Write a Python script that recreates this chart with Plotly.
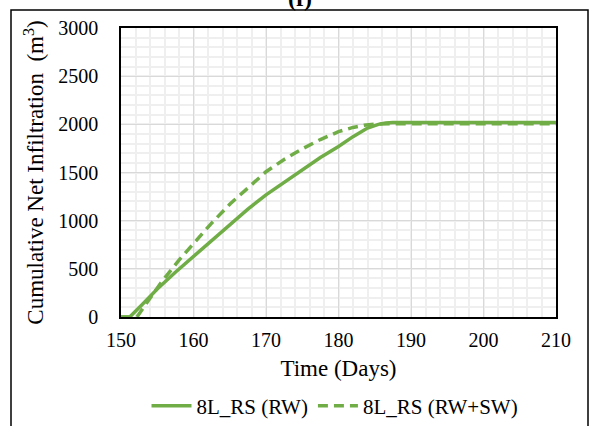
import plotly.graph_objects as go

days_rw = [150, 151.2, 153, 155, 157.5, 160, 162.5, 165, 167.5, 170, 172.5, 175, 177.5, 180, 182, 184, 185.5, 186.5, 187.5, 190, 210]
vals_rw = [0, 0, 135, 290, 465, 630, 800, 965, 1120, 1268, 1400, 1530, 1655, 1770, 1872, 1962, 2000, 2015, 2020, 2020, 2020]

days_rwsw = [150, 152.2, 154, 155.8, 158, 160, 162.5, 165, 167.5, 170, 172.5, 175, 177.5, 180, 182, 183.5, 185, 186, 187, 210]
vals_rwsw = [0, 0, 195, 384, 590, 765, 975, 1170, 1345, 1508, 1635, 1745, 1842, 1924, 1968, 1990, 2002, 2005, 2005, 2005]

color = "#70ad47"
font_family = "Liberation Serif, Times New Roman, serif"

fig = go.Figure()
fig.add_trace(go.Scatter(x=days_rw, y=vals_rw, mode="lines", name="8L_RS (RW)",
                         line=dict(color=color, width=3.5)))
fig.add_trace(go.Scatter(x=days_rwsw, y=vals_rwsw, mode="lines", name="8L_RS (RW+SW)",
                         line=dict(color=color, width=3.5, dash="10px,6px")))

L, R, T, B = 121, 37, 28, 109
W, H = 593, 426
pw, ph = W - L - R, H - T - B

def px(x):
    return (x - L) / pw

def py(y):
    return (H - B - y) / ph

fig.update_layout(
    width=W, height=H,
    margin=dict(l=L, r=R, t=T, b=B, autoexpand=False),
    paper_bgcolor="white", plot_bgcolor="white",
    font=dict(family=font_family, color="black", size=20),
    showlegend=True,
    legend=dict(orientation="h", xref="container", yref="container",
                x=335 / W, xanchor="center", y=1 - 406 / H, yanchor="middle",
                font=dict(size=21, family=font_family), itemwidth=40,
                traceorder="normal", bgcolor="rgba(0,0,0,0)"),
    xaxis=dict(range=[150, 210], tickvals=[150, 160, 170, 180, 190, 200, 210],
               showgrid=True, gridcolor="#d9d9d9", gridwidth=1,
               minor=dict(dtick=2, showgrid=True, gridcolor="#efefef", gridwidth=1.5),
               showline=True, linecolor="black", linewidth=1.5, mirror=True,
               zeroline=False, ticks="", tickfont=dict(size=20, family=font_family),
               ticklabelstandoff=4,
               title=dict(text="Time (Days)", font=dict(size=23, family=font_family), standoff=10)),
    yaxis=dict(range=[0, 3000], tickvals=[0, 500, 1000, 1500, 2000, 2500, 3000],
               showgrid=True, gridcolor="#d9d9d9", gridwidth=1,
               minor=dict(dtick=100, showgrid=True, gridcolor="#efefef", gridwidth=1.5),
               showline=True, linecolor="black", linewidth=1.5, mirror=True,
               zeroline=False, ticks="", tickfont=dict(size=20, family=font_family),
               ticklabelstandoff=17,
               title=dict(text="Cumulative Net Infiltration  (m<sup>3</sup>)",
                          font=dict(size=23, family=font_family), standoff=8)),
    shapes=[dict(type="rect", xref="paper", yref="paper",
                 x0=px(11), x1=px(588), y0=py(440), y1=py(10),
                 line=dict(color="black", width=1.5), fillcolor="rgba(0,0,0,0)", layer="below")],
    annotations=[dict(text="<b>(f)</b>", xref="paper", yref="paper", x=px(300), y=py(-2),
                      xanchor="center", yanchor="middle", showarrow=False,
                      font=dict(size=24, family=font_family))],
)

fig.write_html("out.html")
